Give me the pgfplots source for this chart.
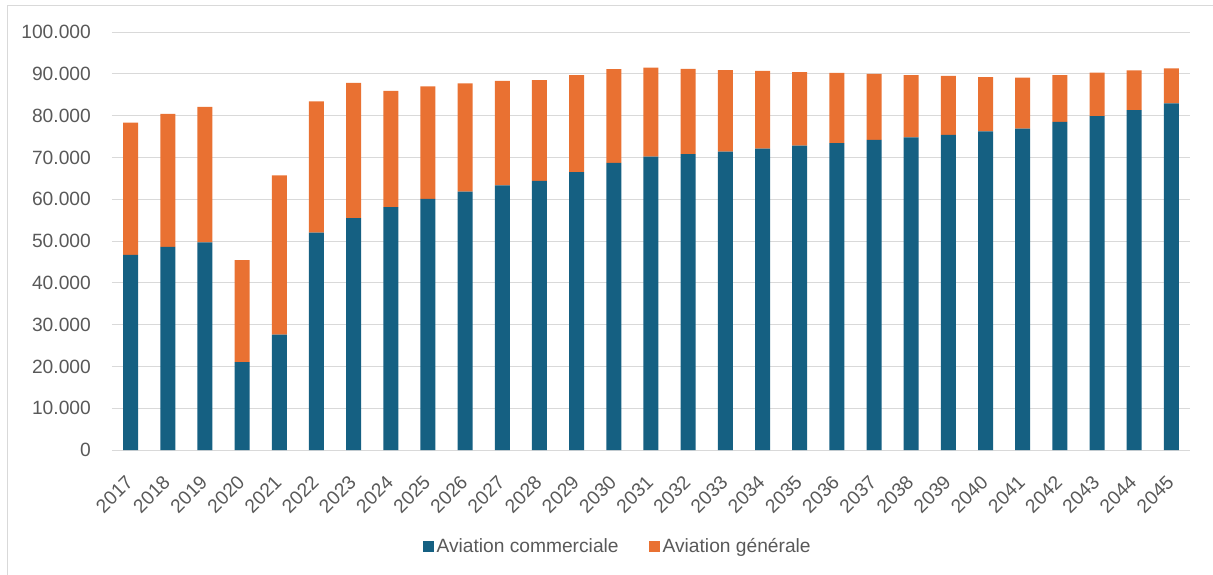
\documentclass[border=0pt]{standalone}
\usepackage{pgfplots}
\pgfplotsset{compat=1.18}
\usepackage{pgfplotstable}
\usepackage{fontspec}
\setmainfont{Liberation Sans}
\definecolor{cblue}{HTML}{156082}
\definecolor{corange}{HTML}{E97132}
\definecolor{gridgray}{HTML}{D9D9D9}
\definecolor{txtgray}{HTML}{595959}
\pgfplotstableread{
x year comm gen
0 2017 46700 31600
1 2018 48600 31800
2 2019 49700 32400
3 2020 21000 24400
4 2021 27600 38100
5 2022 52000 31400
6 2023 55500 32300
7 2024 58100 27800
8 2025 60100 26900
9 2026 61800 25900
10 2027 63300 25000
11 2028 64400 24100
12 2029 66500 23200
13 2030 68700 22400
14 2031 70200 21300
15 2032 70800 20400
16 2033 71400 19500
17 2034 72100 18600
18 2035 72800 17600
19 2036 73400 16800
20 2037 74200 15800
21 2038 74800 14900
22 2039 75400 14100
23 2040 76200 13000
24 2041 76900 12200
25 2042 78500 11200
26 2043 79900 10400
27 2044 81300 9500
28 2045 82900 8400
}\datatable
\begin{document}
\begin{tikzpicture}
\useasboundingbox (-112pt,-124pt) rectangle (1101pt,450pt);
\draw[gridgray, line width=1pt] (-104pt,-130pt) -- (-104pt,444pt) -- (1110pt,444pt);
\begin{axis}[
  at={(0pt,0pt)}, anchor=south west,
  scale only axis,
  width=1078pt, height=418pt,
  ybar stacked,
  bar width=15pt,
  xmin=-0.5, xmax=28.5,
  ymin=0, ymax=100000,
  ytick={0,10000,20000,30000,40000,50000,60000,70000,80000,90000,100000},
  yticklabels={0,10.000,20.000,30.000,40.000,50.000,60.000,70.000,80.000,90.000,100.000},
  xtick=data,
  xticklabels={2017,2018,2019,2020,2021,2022,2023,2024,2025,2026,2027,2028,2029,2030,2031,2032,2033,2034,2035,2036,2037,2038,2039,2040,2041,2042,2043,2044,2045},
  scaled y ticks=false,
  ymajorgrids,
  grid style={gridgray, line width=1pt},
  axis x line*=bottom,
  axis y line*=left,
  y axis line style={draw=none},
  x axis line style={draw=gridgray, line width=1pt, -},
  major tick length=0pt,
  tick label style={font=\fontsize{19.2}{23}\selectfont, text=txtgray},
  yticklabel style={anchor=east, inner sep=0pt, xshift=-21pt},
  xticklabel style={yshift=-29pt, xshift=-1pt, rotate=45, anchor=east, inner sep=0pt},
  legend columns=2,
  legend style={draw=none, fill=none, at={(0.4695,-0.2297)}, anchor=center,
    font=\fontsize{19.2}{23}\selectfont, text=txtgray,
    /tikz/every even column/.append style={column sep=27pt},
    nodes={inner sep=3pt}},
  legend image code/.code={\fill[#1] (-3pt,-5.5pt) rectangle (8pt,5.5pt);},
]
\addplot[fill=cblue, draw=none] table[x=x, y=comm] {\datatable};
\addplot[fill=corange, draw=none] table[x=x, y=gen] {\datatable};
\legend{Aviation commerciale, Aviation générale}
\end{axis}
\end{tikzpicture}
\end{document}
